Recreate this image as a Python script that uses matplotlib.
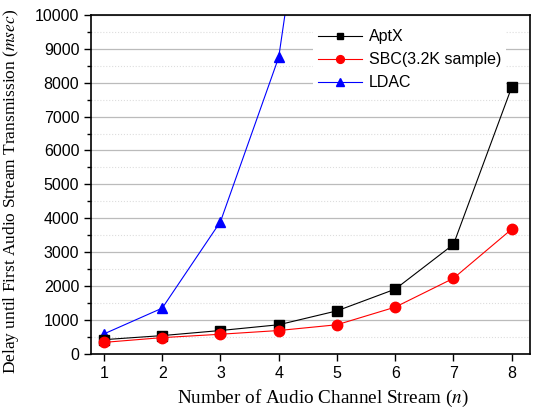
import matplotlib.pyplot as plt
from matplotlib.ticker import MultipleLocator

plt.rcParams["mathtext.fontset"] = "stix"

streams = [1, 2, 3, 4, 5, 6, 7, 8]
aptx = [420, 540, 690, 860, 1270, 1910, 3230, 7870]
sbc = [340, 480, 580, 690, 860, 1380, 2230, 3680]
ldac_streams = [1, 2, 3, 4, 5]
ldac = [590, 1350, 3900, 8750, 20500]

fig = plt.figure(figsize=(5.33, 4.12), dpi=100)
ax = fig.add_axes([0.171, 0.141, 0.823, 0.823])

ax.plot(streams, aptx, color="black", marker="s", markersize=6.5, linewidth=0.8,
        label="AptX", clip_on=False, zorder=6)
ax.plot(streams, sbc, color="red", marker="o", markersize=7.5, linewidth=0.8,
        label="SBC(3.2K sample)", clip_on=False, zorder=6)
ax.plot(ldac_streams, ldac, color="blue", marker="^", markersize=7.5, linewidth=0.8,
        label="LDAC")

ax.set_xlim(0.78, 8.31)
ax.set_ylim(0, 10000)
ax.set_xticks(streams)
ax.yaxis.set_major_locator(MultipleLocator(1000))
ax.yaxis.set_minor_locator(MultipleLocator(500))
ax.grid(True, which="major", axis="y", color="#bbbbbb", linewidth=0.9)
ax.grid(True, which="minor", axis="y", color="#dddddd", linewidth=0.8, linestyle=":")
ax.set_axisbelow(True)

ax.tick_params(which="both", direction="out", top=False, right=False,
               labelsize=11.5, width=1.0)
ax.tick_params(which="major", length=5)
ax.tick_params(which="minor", length=3)
for lbl in ax.get_xticklabels() + ax.get_yticklabels():
    lbl.set_fontfamily("Liberation Sans")
for s in ax.spines.values():
    s.set_linewidth(1.2)

ax.set_xlabel("Number of Audio Channel Stream ($n$)", fontsize=13.8,
              fontfamily="Liberation Serif", labelpad=8)
ax.xaxis.set_label_coords(0.528, -0.1)
ax.set_ylabel("Delay until First Audio Stream Transmission ($msec$)", fontsize=12.5,
              fontfamily="Liberation Serif")
ax.yaxis.set_label_coords(-0.16, 0.48)

# legend box sits left of the last AptX point
leg = ax.legend(loc="upper left", bbox_to_anchor=(0.487, 0.995), frameon=True,
                prop={"family": "Liberation Sans", "size": 11.5},
                handlelength=2.8, labelspacing=0.5, borderpad=0.3,
                markerscale=0.75, handletextpad=0.4)
leg.get_frame().set_edgecolor("none")
leg.get_frame().set_facecolor("white")
leg.get_frame().set_alpha(1)

fig.savefig("out.png", dpi=100)
